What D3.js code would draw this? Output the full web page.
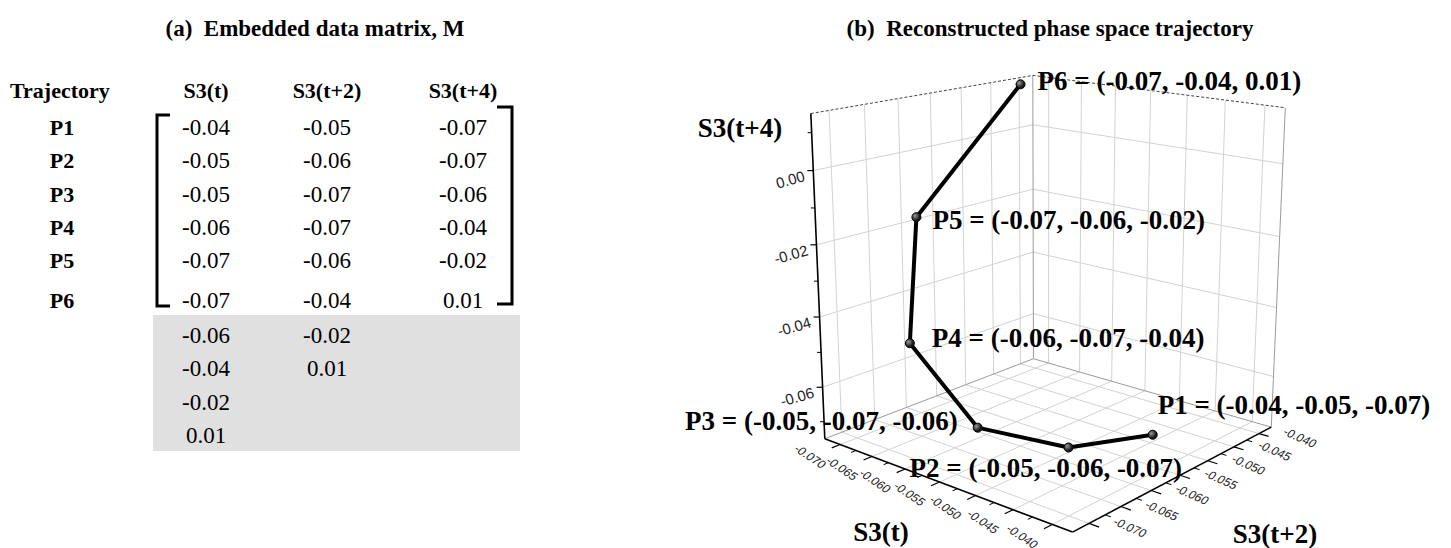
<!DOCTYPE html>
<html>
<head>
<meta charset="utf-8">
<script src="https://cdn.jsdelivr.net/npm/d3@7"></script>
<style>
  body { margin: 0; background: #fff; }
  svg { display: block; }
  text { font-family: "Liberation Serif", "Times New Roman", serif; fill: #000; }
  .num { font-family: "Liberation Sans", Arial, sans-serif; fill: #222; }
</style>
</head>
<body>
<svg id="chart" width="1451" height="548"></svg>
<script>
// S3 series as printed in the matrix (2 decimals)
const s3Table = [-0.04, -0.05, -0.05, -0.06, -0.07, -0.07, -0.06, -0.04, -0.02, 0.01];
// same series as plotted
const s3Plot = [-0.0431, -0.0495, -0.0522, -0.0585, -0.0697, -0.0728, -0.0604, -0.0394, -0.0170, 0.0128];
const delay = 2;
const pointNames = ["P1", "P2", "P3", "P4", "P5", "P6"];
const colHeads = ["S3(t)", "S3(t+2)", "S3(t+4)"];
const xyTicks = [-0.070, -0.065, -0.060, -0.055, -0.050, -0.045, -0.040];
const xyMinor = [-0.0675, -0.0625, -0.0575, -0.0525, -0.0475, -0.0425];
const zTicks = [0.00, -0.02, -0.04, -0.06];
const zMinor = [0.01, -0.01, -0.03, -0.05, -0.07];

const locale = d3.formatLocale({decimal: ".", thousands: ",", grouping: [3], currency: ["", ""], minus: "-"});
const f2 = locale.format(".2f"), f3 = locale.format(".3f");

const svg = d3.select("#chart");

// ---------------- (a) embedded matrix ----------------
const left = svg.append("g");
left.append("text").attr("x", 315).attr("y", 36).attr("text-anchor", "middle")
  .style("font-size", "23px").style("font-weight", "bold").style("white-space", "pre")
  .text("(a)  Embedded data matrix, M");

const colX = [206, 327, 463];
const rowY = i => i < 5 ? 127 + 33.3 * i : (i === 5 ? 300 : 335 + 33.4 * (i - 6));

left.append("rect").attr("x", 153).attr("y", 315).attr("width", 367).attr("height", 136)
  .attr("fill", "#e0e0e0");

left.append("text").attr("x", 10).attr("y", 98)
  .style("font-size", "22px").style("font-weight", "bold").text("Trajectory");
left.selectAll(".head").data(colHeads).join("text")
  .attr("x", (d, i) => colX[i]).attr("y", 98).attr("text-anchor", "middle")
  .style("font-size", "22px").style("font-weight", "bold").text(d => d);
left.selectAll(".pname").data(pointNames).join("text")
  .attr("x", 62).attr("y", (d, i) => rowY(i) + 8).attr("text-anchor", "middle")
  .style("font-size", "22px").style("font-weight", "bold").text(d => d);

const cells = [];
s3Table.forEach((_, r) => {
  colHeads.forEach((_, c) => {
    const v = s3Table[r + c * delay];
    if (v !== undefined) cells.push({r, c, v});
  });
});
left.selectAll(".cell").data(cells).join("text")
  .attr("x", d => colX[d.c]).attr("y", d => rowY(d.r) + 8).attr("text-anchor", "middle")
  .style("font-size", "23px").text(d => f2(d.v));

const br = left.append("g").attr("fill", "none").attr("stroke", "#000").attr("stroke-width", 3);
br.append("path").attr("d", "M170,115H157V306H170");
br.append("path").attr("d", "M497,107H512V304H497");

// ---------------- (b) phase space ----------------
const right = svg.append("g");
right.append("text").attr("x", 1050).attr("y", 36).attr("text-anchor", "middle")
  .style("font-size", "23px").style("font-weight", "bold").style("white-space", "pre")
  .text("(b)  Reconstructed phase space trajectory");

const tS = d3.scaleLinear().domain([-0.0725, -0.0375]).range([0, 1]);
const t2S = d3.scaleLinear().domain([-0.0725, -0.0375]).range([0, 1]);
const t4S = d3.scaleLinear().domain([-0.075, 0.015]).range([0, 1]);
const [lo, hi] = tS.domain(), [zlo, zhi] = t4S.domain();

// where the plot box sits on the page: [S3(t), S3(t+2), S3(t+4), px, py]
const frame = [
  [lo, lo, zlo, 825, 438], [hi, lo, zlo, 1072, 532], [hi, hi, zlo, 1272, 427],
  [lo, lo, zhi, 812, 113], [lo, hi, zhi, 1033, 75], [hi, hi, zhi, 1285, 108],
  [lo, lo, 0, 813, 170], [lo, lo, -0.02, 815, 245], [lo, lo, -0.04, 820, 318], [lo, lo, -0.06, 823, 388],
  [lo, hi, 0, 1033, 125], [lo, hi, -0.02, 1033, 190], [lo, hi, -0.04, 1033, 252], [lo, hi, -0.06, 1033, 313]
];

function solve(A, b) {
  const n = b.length, M = A.map((r, i) => [...r, b[i]]);
  for (let c = 0; c < n; c++) {
    let p = c;
    for (let r = c + 1; r < n; r++) if (Math.abs(M[r][c]) > Math.abs(M[p][c])) p = r;
    [M[c], M[p]] = [M[p], M[c]];
    for (let r = 0; r < n; r++) {
      if (r === c) continue;
      const f = M[r][c] / M[c][c];
      for (let k = c; k <= n; k++) M[r][k] -= f * M[c][k];
    }
  }
  return M.map((r, i) => r[n] / r[i]);
}
function leastSquares(rows, rhs) {
  const n = rows[0].length;
  const AtA = d3.range(n).map(i => d3.range(n).map(j => d3.sum(rows, r => r[i] * r[j])));
  const Atb = d3.range(n).map(i => d3.sum(rows, (r, k) => r[i] * rhs[k]));
  return solve(AtA, Atb);
}

// perspective camera matrix (3x4) fitted to the frame
const dltRows = [], dltRhs = [];
frame.forEach(([a, b, c, px, py]) => {
  const X = tS(a), Y = t2S(b), Z = t4S(c);
  dltRows.push([X, Y, Z, 1, 0, 0, 0, 0, -px * X, -px * Y, -px * Z]); dltRhs.push(px);
  dltRows.push([0, 0, 0, 0, X, Y, Z, 1, -py * X, -py * Y, -py * Z]); dltRhs.push(py);
});
const m = leastSquares(dltRows, dltRhs);
const m1 = m.slice(0, 4), m2 = m.slice(4, 8), m3 = [...m.slice(8, 11), 1];

function project(u, v, w) {
  const d = m3[0] * u + m3[1] * v + m3[2] * w + 1;
  return [(m1[0] * u + m1[1] * v + m1[2] * w + m1[3]) / d,
          (m2[0] * u + m2[1] * v + m2[2] * w + m2[3]) / d];
}
const P = (a, b, c) => project(tS(a), t2S(b), t4S(c));
const line = d3.line();

const grid = right.append("g").attr("fill", "none").attr("stroke", "#d2d2d2").attr("stroke-width", 1);
const seg = (g, a, b) => g.append("path").attr("d", line([a, b]));
xyTicks.forEach(t => {
  seg(grid, P(t, lo, zlo), P(t, hi, zlo));      // floor
  seg(grid, P(lo, t, zlo), P(hi, t, zlo));
  seg(grid, P(lo, t, zlo), P(lo, t, zhi));      // left wall
  seg(grid, P(t, hi, zlo), P(t, hi, zhi));      // back wall
});
zTicks.forEach(z => {
  seg(grid, P(lo, lo, z), P(lo, hi, z));
  seg(grid, P(lo, hi, z), P(hi, hi, z));
});

const edges = right.append("g").attr("fill", "none").attr("stroke", "#9a9a9a").attr("stroke-width", 1);
seg(edges, P(lo, hi, zlo), P(lo, hi, zhi));
seg(edges, P(hi, hi, zlo), P(hi, hi, zhi));
seg(edges, P(lo, lo, zlo), P(lo, hi, zlo));
seg(edges, P(lo, hi, zlo), P(hi, hi, zlo));
right.append("path").attr("fill", "none").attr("stroke", "#444").attr("stroke-dasharray", "3,2")
  .attr("d", line([P(lo, lo, zhi), P(lo, hi, zhi), P(hi, hi, zhi)]));

// axes
const axes = right.append("g").attr("fill", "none").attr("stroke", "#000");
seg(axes, P(lo, lo, zlo), P(lo, lo, zhi)).attr("stroke-width", 1.6);
seg(axes, P(lo, lo, zlo), P(hi, lo, zlo)).attr("stroke-width", 1.6);
seg(axes, P(hi, lo, zlo), P(hi, hi, zlo)).attr("stroke-width", 1.6);

xyTicks.forEach(t => {
  seg(axes, P(t, lo, zlo), project(tS(t), -0.035, 0)).attr("stroke-width", 1.2);
  seg(axes, P(hi, t, zlo), project(1.035, t2S(t), 0)).attr("stroke-width", 1.2);
});
xyMinor.forEach(t => {
  seg(axes, P(t, lo, zlo), project(tS(t), -0.02, 0)).attr("stroke-width", 1);
  seg(axes, P(hi, t, zlo), project(1.02, t2S(t), 0)).attr("stroke-width", 1);
});
zTicks.forEach(z => { const p = P(lo, lo, z); seg(axes, p, [p[0] - 6, p[1]]).attr("stroke-width", 1.2); });
zMinor.forEach(z => { const p = P(lo, lo, z); seg(axes, p, [p[0] - 4, p[1]]).attr("stroke-width", 1); });

const lbl = right.append("g");
xyTicks.forEach(t => {
  const a = P(t, lo, zlo);
  lbl.append("text").attr("class", "num").attr("transform", `translate(${a[0] - 30},${a[1] + 12}) rotate(34) skewX(-12)`)
    .attr("text-anchor", "middle").attr("dy", "0.35em").style("font-size", "12px").text(f3(t));
  const b = P(hi, t, zlo);
  lbl.append("text").attr("class", "num").attr("transform", `translate(${b[0] + 41},${b[1] + 4}) rotate(24) skewX(-12)`)
    .attr("text-anchor", "middle").attr("dy", "0.35em").style("font-size", "12px").text(f3(t));
});
zTicks.forEach(z => {
  const p = P(lo, lo, z);
  lbl.append("text").attr("class", "num").attr("transform", `translate(${p[0] - 9},${p[1] + 5}) rotate(-16)`)
    .attr("text-anchor", "end").attr("dy", "0.35em").style("font-size", "15px").text(f2(z));
});

const titles = right.append("g").style("font-size", "27px").style("font-weight", "bold");
titles.append("text").attr("x", 740).attr("y", 137).attr("text-anchor", "middle").text("S3(t+4)");
titles.append("text").attr("x", 881).attr("y", 541).attr("text-anchor", "middle").text("S3(t)");
titles.append("text").attr("x", 1275).attr("y", 543).attr("text-anchor", "middle").text("S3(t+2)");

// trajectory
const embed = s => pointNames.map((name, k) => ({name, v: [s[k], s[k + delay], s[k + 2 * delay]]}));
const pts = embed(s3Plot);
pts.forEach(p => { p.xy = P(...p.v); });

const defs = svg.append("defs");
const grad = defs.append("radialGradient").attr("id", "ball").attr("cx", "35%").attr("cy", "35%");
grad.append("stop").attr("offset", "0%").attr("stop-color", "#9a9a9a");
grad.append("stop").attr("offset", "100%").attr("stop-color", "#1a1a1a");

right.append("path").attr("fill", "none").attr("stroke", "#000").attr("stroke-width", 4)
  .attr("stroke-linejoin", "round").attr("d", line(pts.map(p => p.xy)));
right.selectAll(".ball").data(pts).join("circle")
  .attr("cx", d => d.xy[0]).attr("cy", d => d.xy[1]).attr("r", 4.5)
  .attr("fill", "url(#ball)").attr("stroke", "#000").attr("stroke-width", 1);

const labelAt = [
  {anchor: "start", dx: 5, dy: -21}, {anchor: "start", dx: -159, dy: 29},
  {anchor: "end", dx: -20, dy: 2}, {anchor: "start", dx: 22, dy: 4},
  {anchor: "start", dx: 16, dy: 12}, {anchor: "start", dx: 17, dy: 6}
];
right.selectAll(".plabel").data(pts).join("text")
  .attr("x", (d, i) => d.xy[0] + labelAt[i].dx).attr("y", (d, i) => d.xy[1] + labelAt[i].dy)
  .attr("text-anchor", (d, i) => labelAt[i].anchor)
  .style("font-size", "27px").style("font-weight", "bold")
  .text(d => `${d.name} = (${d.v.map(f2).join(", ")})`);
</script>
</body>
</html>
